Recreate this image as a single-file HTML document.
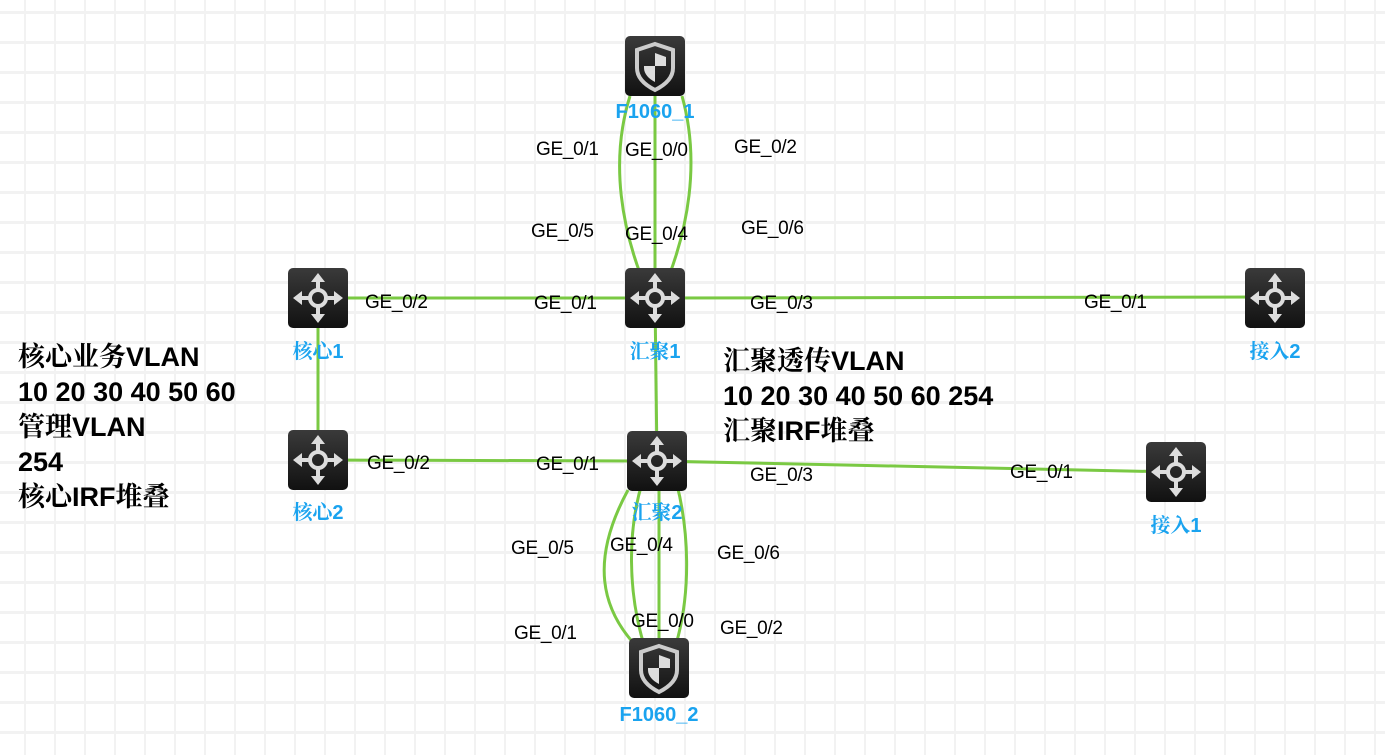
<!DOCTYPE html>
<html><head><meta charset="utf-8"><style>
body{margin:0;width:1385px;height:755px;overflow:hidden;background:#fff;
background-image:repeating-linear-gradient(90deg,transparent 0 24px,#f2f2f2 24px 26px,transparent 26px 30px);
font-family:"Liberation Sans","Noto Sans CJK SC",sans-serif;position:relative}
.t{position:absolute;font-size:19px;color:#000;white-space:nowrap;letter-spacing:-0.3px}
.n{position:absolute;font-size:20px;font-weight:bold;color:#1aa3ef;white-space:nowrap;transform:translateX(-50%);font-family:"Liberation Sans","Noto Serif CJK SC",sans-serif}
.big,.big2{position:absolute;font-size:27px;font-weight:bold;line-height:35px;color:#000;font-family:"Liberation Sans","Noto Serif CJK SC",sans-serif;white-space:nowrap}
.big{left:18px;top:340px}
.big2{left:723px;top:344px}
svg{position:absolute;left:0;top:0}
</style></head><body>
<svg width="1385" height="755">
<g fill="#f2f2f2">
<rect x="0" y="11" width="1385" height="3"/><rect x="0" y="41" width="1385" height="3"/><rect x="0" y="71" width="1385" height="3"/><rect x="0" y="101" width="1385" height="3"/><rect x="0" y="131" width="1385" height="3"/><rect x="0" y="161" width="1385" height="3"/><rect x="0" y="191" width="1385" height="3"/><rect x="0" y="221" width="1385" height="3"/><rect x="0" y="251" width="1385" height="3"/><rect x="0" y="281" width="1385" height="3"/><rect x="0" y="311" width="1385" height="3"/><rect x="0" y="341" width="1385" height="3"/><rect x="0" y="371" width="1385" height="3"/><rect x="0" y="401" width="1385" height="3"/><rect x="0" y="431" width="1385" height="3"/><rect x="0" y="461" width="1385" height="3"/><rect x="0" y="491" width="1385" height="3"/><rect x="0" y="521" width="1385" height="3"/><rect x="0" y="551" width="1385" height="3"/><rect x="0" y="581" width="1385" height="3"/><rect x="0" y="611" width="1385" height="3"/><rect x="0" y="641" width="1385" height="3"/><rect x="0" y="671" width="1385" height="3"/><rect x="0" y="701" width="1385" height="3"/><rect x="0" y="731" width="1385" height="3"/>
</g>
<g stroke="#7ac943" stroke-width="3" fill="none">
<line x1="318" y1="298" x2="655" y2="298"/>
<line x1="655" y1="298" x2="1275" y2="297"/>
<line x1="318" y1="298" x2="318" y2="460"/>
<line x1="318" y1="460" x2="657" y2="461"/>
<line x1="657" y1="461" x2="1176" y2="472"/>
<line x1="655" y1="298" x2="657" y2="461"/>
<line x1="655" y1="66" x2="655" y2="298"/>
<path d="M630 96 C610 160 620 230 650 298"/>
<path d="M682 96 C700 160 690 230 660 298"/>
<line x1="659" y1="668" x2="659" y2="461"/>
<path d="M650 461 C625 520 625 600 652 668"/>
<path d="M628 490 C590 560 600 610 640 650"/>
<path d="M670 461 C690 520 695 600 668 668"/>
</g>
<defs>
<linearGradient id="bg" x1="0" y1="0" x2="0" y2="1"><stop offset="0" stop-color="#3a3a3a"/><stop offset="1" stop-color="#111"/></linearGradient>
<g id="sw"><rect x="-30" y="-30" width="60" height="60" rx="5" fill="url(#bg)"/>
<g fill="#ddd" stroke="#ddd"><circle cx="0" cy="0" r="8" fill="none" stroke-width="4"/>
<path d="M0 -8V-17M0 8V17M-8 0H-17M8 0H17" stroke-width="4"/>
<path d="M0 -25 L-7 -16 L7 -16Z M0 25 L-7 16 L7 16Z M-25 0 L-16 -7 L-16 7Z M25 0 L16 -7 L16 7Z" stroke="none"/></g></g>
<g id="fw"><rect x="-30" y="-30" width="60" height="60" rx="5" fill="url(#bg)"/>
<path d="M0 -22 L18 -16 L18 2 C18 12 10 19 0 24 C-10 19 -18 12 -18 2 L-18 -16Z" fill="none" stroke="#ccc" stroke-width="4"/>
<path d="M0 -13 L11 -9 L11 0 L0 0Z M-11 0 L0 0 L0 16 C-6 13 -11 8 -11 2Z" fill="#ddd"/></g>
</defs>
<use href="#fw" x="655" y="66"/>
<use href="#sw" x="318" y="298"/>
<use href="#sw" x="655" y="298"/>
<use href="#sw" x="1275" y="298"/>
<use href="#sw" x="318" y="460"/>
<use href="#sw" x="657" y="461"/>
<use href="#sw" x="1176" y="472"/>
<use href="#fw" x="659" y="668"/>
</svg>
<div class="n" style="left:655px;top:101px">F1060_1</div>
<div class="n" style="left:318px;top:335px">核心1</div>
<div class="n" style="left:655px;top:335px">汇聚1</div>
<div class="n" style="left:1275px;top:335px">接入2</div>
<div class="n" style="left:318px;top:496px">核心2</div>
<div class="n" style="left:657px;top:496px">汇聚2</div>
<div class="n" style="left:1176px;top:509px">接入1</div>
<div class="n" style="left:659px;top:704px">F1060_2</div>
<div class="t" style="left:536px;top:139px">GE_0/1</div>
<div class="t" style="left:625px;top:140px">GE_0/0</div>
<div class="t" style="left:734px;top:137px">GE_0/2</div>
<div class="t" style="left:531px;top:221px">GE_0/5</div>
<div class="t" style="left:625px;top:224px">GE_0/4</div>
<div class="t" style="left:741px;top:218px">GE_0/6</div>
<div class="t" style="left:365px;top:292px">GE_0/2</div>
<div class="t" style="left:534px;top:293px">GE_0/1</div>
<div class="t" style="left:750px;top:293px">GE_0/3</div>
<div class="t" style="left:1084px;top:292px">GE_0/1</div>
<div class="t" style="left:367px;top:453px">GE_0/2</div>
<div class="t" style="left:536px;top:454px">GE_0/1</div>
<div class="t" style="left:750px;top:465px">GE_0/3</div>
<div class="t" style="left:1010px;top:462px">GE_0/1</div>
<div class="t" style="left:511px;top:538px">GE_0/5</div>
<div class="t" style="left:610px;top:535px">GE_0/4</div>
<div class="t" style="left:717px;top:543px">GE_0/6</div>
<div class="t" style="left:514px;top:623px">GE_0/1</div>
<div class="t" style="left:631px;top:611px">GE_0/0</div>
<div class="t" style="left:720px;top:618px">GE_0/2</div>
<div class="big">核心业务VLAN<br>10 20 30 40 50 60<br>管理VLAN<br>254<br>核心IRF堆叠</div>
<div class="big2">汇聚透传VLAN<br>10 20 30 40 50 60 254<br>汇聚IRF堆叠</div>
</body></html>
